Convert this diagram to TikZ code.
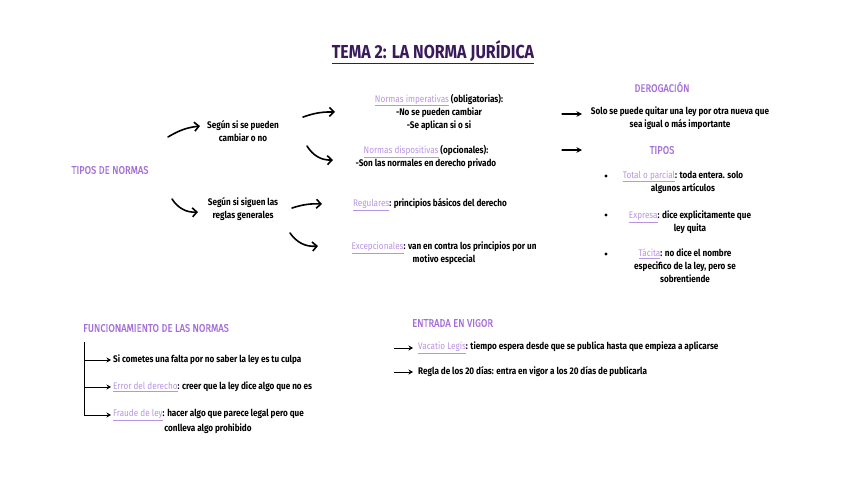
\documentclass[tikz,border=0pt]{standalone}
\usepackage{fontspec}
\setmainfont{Fira Sans}[FakeStretch=0.85]
\usetikzlibrary{arrows.meta,positioning}

\definecolor{titulo}{HTML}{3B1A5C}
\definecolor{cabecera}{HTML}{A56FD8}
\definecolor{enlace}{HTML}{B994E2}
\newcommand{\enl}[1]{{\color{enlace}\mdseries\underline{#1}}}

\tikzset{
  txt/.style={font=\bfseries\fontsize{9.6}{13}\selectfont, align=center, inner sep=0pt},
  cab/.style={font=\mdseries\fontsize{11}{12}\selectfont\addfontfeature{FakeBold=0.8}, text=cabecera, inner sep=0pt},
  flecha/.style={-{Straight Barb[length=4.5pt,width=9pt]}, line width=1.6pt, line cap=round},
  flechita/.style={-{Stealth[length=4.5pt,width=5pt]}, line width=1pt},
  bala/.style={circle, fill, inner sep=0pt, minimum size=3.2pt},
}

\begin{document}
\begin{tikzpicture}[x=1pt, y=-1pt]
                \useasboundingbox (0,0) rectangle (848,477);
                
                % title
                \node[font=\bfseries\fontsize{18.8}{22}\selectfont, text=titulo] (tema) at (433,52) {\underline{TEMA 2: LA NORMA JURÍDICA}};
                
                % tipos de normas
                \node[cab] (tipos) at (110,170) {TIPOS DE NORMAS};
                \node[txt] (camb) at (243,131) {Según si se pueden\\cambiar o no};
                \node[txt] (regl) at (243,209) {Según si siguen las\\reglas generales};
                \node[txt] (imp) at (439,112) {\enl{Normas imperativas} (obligatorias):\\-No se pueden cambiar\\-Se aplican si o si};
                \node[txt] (disp) at (426,157) {\enl{Normas dispositivas} (opcionales):\\-Son las normales en derecho privado};
                \node[txt] (reg) at (430,205) {\enl{Regulares}: principios básicos del derecho};
                \node[txt] (exc) at (444,253) {\enl{Excepcionales}: van en contra los principios por un\\motivo espcecial};
                
                \coordinate (t1a) at (168,137); \coordinate (t1b) at (200,126);
                \coordinate (t2a) at (172,199); \coordinate (t2b) at (198,212);
                \coordinate (c1a) at (303,117); \coordinate (c1b) at (335,112);
                \coordinate (c2a) at (307,146); \coordinate (c2b) at (333,160);
                \coordinate (r1a) at (292,208); \coordinate (r1b) at (322,204);
                \coordinate (r2a) at (290,233); \coordinate (r2b) at (318,246);
                
                \draw[flecha] (t1a) to[bend left=12] (t1b);
                \draw[flecha] (t2a) to[bend right=30] (t2b);
                \draw[flecha] (c1a) to[bend left=10] (c1b);
                \draw[flecha] (c2a) to[bend right=30] (c2b);
                \draw[flecha] (r1a) to[bend left=10] (r1b);
                \draw[flecha] (r2a) to[bend right=30] (r2b);
                
                % derogacion
                \node[cab] (derog) at (662,87) {DEROGACIÓN};
                \node[txt] (solo) at (680,118) {Solo se puede quitar una ley por otra nueva que\\sea igual o más importante};
                \node[cab] (tip) at (662,150) {TIPOS};
                \coordinate (d1) at (562,114); \coordinate (d2) at (562,150);
                \draw[flecha, line width=1.3pt, -{Stealth[length=5.5pt,width=5.5pt]}] (d1) -- ++(20,0);
                \draw[flecha, line width=1.3pt, -{Stealth[length=5.5pt,width=5.5pt]}] (d2) -- ++(20,0);
                
                \node[bala] (b1) at (606,176) {};
                \node[bala] (b2) at (606,215) {};
                \node[bala] (b3) at (606,254) {};
                \node[txt] (total) at (683,182) {\enl{Total o parcial}: toda entera. solo\\algunos artículos};
                \node[txt] (expr) at (690,222) {\enl{Expresa}: dice explicitamente que\\ley quita};
                \node[txt] (taci) at (685,266) {\enl{Tácita}: no dice el nombre\\especifico de la ley, pero se\\sobrentiende};
                
                % funcionamiento
                \node[cab, anchor=west] (func) at (83,328) {FUNCIONAMIENTO DE LAS NORMAS};
                \node[txt, anchor=west] (f1) at (113,360) {Si cometes una falta por no saber la ley es tu culpa};
                \node[txt, anchor=west] (f2) at (113,387) {\enl{Error del derecho}: creer que la ley dice algo que no es};
                \node[txt, anchor=west] (f3) at (113,415) {\enl{Fraude de ley}: hacer algo que parece legal pero que};
                \node[txt] (f3b) at (208,429) {conlleva algo prohibido};
                \coordinate (brk) at (84,342);
                \draw[line width=1pt] (brk) -- (brk |- f3.west);
                \draw[flechita] (brk |- f1.west) -- ([xshift=-2pt]f1.west);
                \draw[flechita] (brk |- f2.west) -- ([xshift=-2pt]f2.west);
                \draw[flechita] (brk |- f3.west) -- ([xshift=-2pt]f3.west);
                
                % entrada en vigor
                \node[cab, anchor=west] (vigor) at (412,323) {ENTRADA EN VIGOR};
                \node[txt, anchor=west] (vac) at (418,348) {\enl{Vacatio Legis}: tiempo espera desde que se publica hasta que empieza a aplicarse};
                \node[txt, anchor=west] (veinte) at (418,372) {Regla de los 20 días: entra en vigor a los 20 días de publicarla};
                \draw[flechita] ([xshift=-24pt]vac.west) -- ([xshift=-5pt]vac.west);
                \draw[flechita] ([xshift=-24pt]veinte.west) -- ([xshift=-5pt]veinte.west);
            \end{tikzpicture}
\end{document}
